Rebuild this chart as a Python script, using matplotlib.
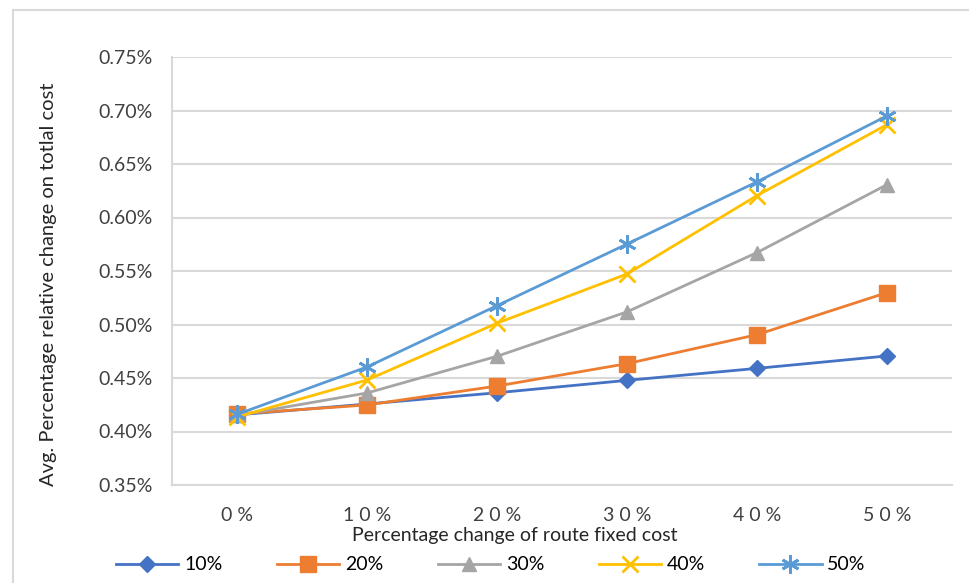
import matplotlib.pyplot as plt
from matplotlib.patches import Rectangle
from matplotlib.ticker import FuncFormatter

plt.rcParams['font.family'] = ['Lato', 'DejaVu Sans']

categories = ['0 %', '1 0 %', '2 0 %', '3 0 %', '4 0 %', '5 0 %']
series_names = ['10%', '20%', '30%', '40%', '50%']
s10 = [0.4155, 0.4257, 0.4362, 0.4478, 0.4590, 0.4706]
s20 = [0.4164, 0.4248, 0.4425, 0.4634, 0.4905, 0.5298]
s30 = [0.4150, 0.4360, 0.4703, 0.5118, 0.5672, 0.6307]
s40 = [0.4136, 0.4481, 0.5012, 0.5472, 0.6205, 0.6868]
s50 = [0.4160, 0.4603, 0.5176, 0.5752, 0.6333, 0.6950]

colors = ['#4472C4', '#ED7D31', '#A5A5A5', '#FFC000', '#5B9BD5']
markers = ['D', 's', '^', 'x', (6, 2, 0)]
msizes = [8, 11, 10, 11, 13]

fig = plt.figure(figsize=(9.7, 5.83), dpi=100)
ax = fig.add_axes([172/970, 1-485/583, (952-172)/970, (485-57)/583])

x = list(range(len(categories)))
for vals, name, c, m, ms in zip([s10, s20, s30, s40, s50], series_names, colors, markers, msizes):
    ax.plot(x, vals, color=c, marker=m, markersize=ms, linewidth=2,
            markeredgewidth=2 if m in ('x', (6, 2, 0)) else 1, label=name)

ax.set_xlim(-0.5, 5.5)
ax.set_ylim(0.35, 0.75)
ax.set_yticks([0.35, 0.40, 0.45, 0.50, 0.55, 0.60, 0.65, 0.70, 0.75])
ax.yaxis.set_major_formatter(FuncFormatter(lambda v, p: f'{v:.2f}%'))
ax.set_xticks(x)
ax.set_xticklabels(categories)
ax.grid(axis='y', color='#D9D9D9', linewidth=1.5)
ax.set_axisbelow(True)
for side in ['top', 'right']:
    ax.spines[side].set_visible(False)
ax.spines['left'].set_color('#D9D9D9')
ax.spines['bottom'].set_color('#D9D9D9')
ax.spines['left'].set_linewidth(1.5)
ax.spines['bottom'].set_linewidth(1.5)
ax.tick_params(length=0, labelsize=14, colors='#404040', pad=14)
ax.tick_params(axis='x', pad=16)

ax.set_ylabel('Avg. Percentage relative change on totlal cost', fontsize=14.5, color='#262626')
ax.yaxis.set_label_coords(-115/780, (485-284)/428)
ax.set_xlabel('Percentage change of route fixed cost', fontsize=14, color='#262626')
ax.xaxis.set_label_coords((515-172)/780, -(527-485)/428)

fig.legend(loc='center', bbox_to_anchor=(491/970, 1-565/583), ncol=5, frameon=False,
           fontsize=14, handlelength=3.2, columnspacing=2.8, handletextpad=0.3)

fig.patches.append(Rectangle((13/970, -0.1), 2, 1-10/583+0.1, transform=fig.transFigure,
                             fill=False, edgecolor='#D9D9D9', linewidth=1.5))

fig.savefig('out.png', dpi=100)
